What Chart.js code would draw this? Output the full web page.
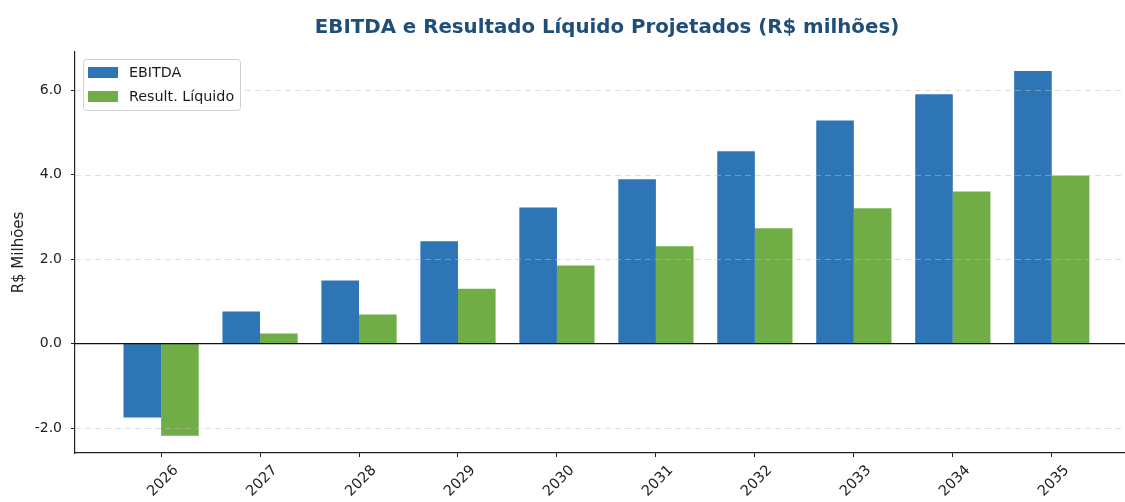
<!DOCTYPE html>
<html>
<head>
<meta charset="utf-8">
<script src="https://cdn.jsdelivr.net/npm/chart.js@4/dist/chart.umd.min.js"></script>
<style>
  html, body { margin: 0; padding: 0; background: #fff; }
  #wrap { width: 1125px; height: 502px; position: relative; }
</style>
</head>
<body>
<div id="wrap"><canvas id="projChart"></canvas></div>
<script>
const years = ["2026", "2027", "2028", "2029", "2030", "2031", "2032", "2033", "2034", "2035"];
const ebitda = [-1.75, 0.76, 1.49, 2.42, 3.22, 3.89, 4.55, 5.28, 5.90, 6.45];
const resultLiquido = [-2.18, 0.24, 0.69, 1.30, 1.85, 2.30, 2.73, 3.20, 3.60, 3.98];
const yTicks = [-2, 0, 2, 4, 6];

const FONT = "'DejaVu Sans', sans-serif";
const BLUE = "#2E75B6";
const GREEN = "#70AD47";

// grid, zero line, x labels, legend and title drawn on top of the bars
const overlay = {
  id: "overlay",
  afterDatasetsDraw(chart) {
    const ctx = chart.ctx;
    const area = chart.chartArea;
    const y = chart.scales.y;
    ctx.save();
    ctx.strokeStyle = "rgba(190,190,190,0.5)";
    ctx.lineWidth = 1;
    ctx.setLineDash([6, 4]);
    yTicks.forEach(v => {
      if (v === 0) return;
      const py = Math.round(y.getPixelForValue(v)) + 0.5;
      ctx.beginPath();
      ctx.moveTo(area.left, py);
      ctx.lineTo(area.right, py);
      ctx.stroke();
    });
    ctx.setLineDash([]);
    ctx.strokeStyle = "#111";
    ctx.lineWidth = 1.2;
    const zy = y.getPixelForValue(0);
    ctx.beginPath();
    ctx.moveTo(area.left, zy);
    ctx.lineTo(area.right, zy);
    ctx.stroke();
    ctx.restore();
  },
  afterDraw(chart) {
    const ctx = chart.ctx;
    const area = chart.chartArea;
    const x = chart.scales.x;
    ctx.save();

    // rotated year labels, centred under each tick
    ctx.fillStyle = "#222";
    ctx.font = "14.5px " + FONT;
    ctx.textAlign = "center";
    ctx.textBaseline = "middle";
    years.forEach((yr, i) => {
      const px = x.getPixelForValue(i);
      ctx.save();
      ctx.translate(px + 2, area.bottom + 28);
      ctx.rotate(-Math.PI / 4);
      ctx.fillText(yr, 0, 0);
      ctx.restore();
    });

    // legend box
    const lx = 83, ly = 59, lw = 157, lh = 51;
    ctx.beginPath();
    ctx.roundRect(lx + 0.5, ly + 0.5, lw, lh, 3);
    ctx.fillStyle = "rgba(255,255,255,0.85)";
    ctx.fill();
    ctx.strokeStyle = "#d0d0d0";
    ctx.lineWidth = 1;
    ctx.stroke();
    ctx.textAlign = "left";
    ctx.textBaseline = "middle";
    ctx.font = "14.3px " + FONT;
    chart.data.datasets.forEach((ds, i) => {
      const cy = ly + 13 + i * 24;
      ctx.fillStyle = ds.backgroundColor;
      ctx.fillRect(lx + 5, cy - 5, 30, 11);
      ctx.fillStyle = "#1a1a1a";
      ctx.fillText(ds.label, lx + 46, cy + 1);
    });

    // title, centred over the axes
    ctx.fillStyle = "#1F4E79";
    ctx.font = "bold 19.8px " + FONT;
    ctx.textAlign = "center";
    ctx.fillText("EBITDA e Resultado Líquido Projetados (R$ milhões)", 607, 28);
    ctx.restore();
  }
};

const ctx = document.getElementById("projChart").getContext("2d");
new Chart(ctx, {
  type: "bar",
  data: {
    datasets: [
      {
        label: "EBITDA",
        data: ebitda.map((v, i) => ({ x: i, y: v })),
        backgroundColor: BLUE,
        borderWidth: 0,
        categoryPercentage: 0.76,
        barPercentage: 1.0
      },
      {
        label: "Result. Líquido",
        data: resultLiquido.map((v, i) => ({ x: i, y: v })),
        backgroundColor: GREEN,
        borderWidth: 0,
        categoryPercentage: 0.76,
        barPercentage: 1.0
      }
    ]
  },
  options: {
    responsive: true,
    maintainAspectRatio: false,
    animation: false,
    layout: { padding: { top: 52, left: 0, right: 0, bottom: 0 } },
    plugins: {
      legend: { display: false },
      title: { display: false },
      tooltip: { enabled: false }
    },
    scales: {
      x: {
        type: "linear",
        offset: false,
        min: -0.87,
        max: 9.74,
        afterBuildTicks: axis => { axis.ticks = years.map((_, i) => ({ value: i })); },
        afterFit: axis => { axis.height = 49; },
        grid: { offset: false, drawOnChartArea: false, drawTicks: true, tickLength: 4, tickColor: "#222", tickWidth: 1 },
        border: { display: true, color: "#222", width: 1.2 },
        ticks: { color: "rgba(0,0,0,0)", maxRotation: 0, autoSkip: false, callback: () => "" }
      },
      y: {
        min: -2.59,
        max: 6.9,
        afterBuildTicks: axis => { axis.ticks = yTicks.map(v => ({ value: v })); },
        afterFit: axis => { axis.width = 75; },
        grid: { drawOnChartArea: false, drawTicks: true, tickLength: 4, tickColor: "#222", tickWidth: 1 },
        border: { display: true, color: "#222", width: 1.2 },
        ticks: {
          color: "#222",
          padding: 9,
          font: { family: FONT, size: 14 },
          callback: v => v.toFixed(1)
        },
        title: {
          display: true,
          text: "R$ Milhões",
          color: "#222",
          font: { family: FONT, size: 15 },
          padding: { top: 10, bottom: 0 }
        }
      }
    }
  },
  plugins: [overlay]
});
</script>
</body>
</html>
